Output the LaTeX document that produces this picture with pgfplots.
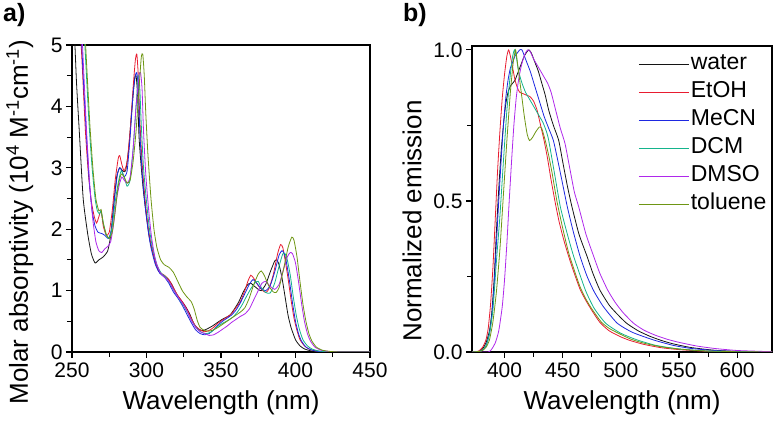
\documentclass[border=0pt]{standalone}
\usepackage{pgfplots}
\pgfplotsset{compat=1.18}
\usepackage{fontspec}
\setmainfont{Liberation Sans}
\definecolor{cwater}{RGB}{20,20,20}
\definecolor{cetoh}{RGB}{232,28,48}
\definecolor{cmecn}{RGB}{30,40,225}
\definecolor{cdcm}{RGB}{20,180,140}
\definecolor{cdmso}{RGB}{175,40,235}
\definecolor{ctol}{RGB}{110,150,20}
\pgfplotsset{
  common/.style={
    scale only axis,
    anchor=south west,
    axis line style={line width=1.4pt},
    tick align=outside,
    xtick pos=bottom, ytick pos=left,
    major tick length=6pt, minor tick length=5pt,
    every tick/.style={line width=1.1pt, black},
    tick label style={font=\fontsize{21}{21}\selectfont},
    label style={font=\fontsize{26}{26}\selectfont},
    /pgf/number format/assume math mode=true,
    every axis plot/.append style={line width=0.8pt},
    clip=true,
  },
  sm/.style={smooth, tension=0.35},
}
\begin{document}
\begin{tikzpicture}
\useasboundingbox (0,0) rectangle (777pt,423pt);
\node[anchor=north west, inner sep=0pt, font=\fontsize{25}{25}\selectfont\bfseries] at (3pt,420pt) {a)};
\node[anchor=north west, inner sep=0pt, font=\fontsize{25}{25}\selectfont\bfseries] at (403pt,420pt) {b)};
\begin{axis}[common,
  at={(72pt,71pt)}, width=298pt, height=307pt,
  xmin=250, xmax=450, ymin=0, ymax=5,
  xtick={250,300,...,450}, ytick={0,1,...,5},
  minor x tick num=1, minor y tick num=1,
  xticklabel style={yshift=-1pt},
  xlabel={Wavelength (nm)},
  ylabel={Molar absorptivity (10\textsuperscript{4} M\textsuperscript{-1}cm\textsuperscript{-1})},
  xlabel style={at={(axis description cs:0.5,-0.115)}, anchor=north},
  ylabel style={at={(axis description cs:-0.175,0.423)}, anchor=center},
]
% water
\addplot[cwater, sm] coordinates {(251.5,5.3)(253,4.4)(255,3.55)(257.5,2.5)(260.5,1.93)(263,1.6)(265.5,1.45)(268,1.5)(271,1.55)(274,1.65)(276,1.9)(278,2.4)(280,2.85)(282,3.0)(284,2.95)(286,2.95)(288,3.3)(290,3.9)(292,4.45)(293,4.5)(294,4.2)(295,3.5)(296.5,3.0)(298,2.6)(300,2.2)(302,1.85)(305,1.55)(308,1.32)(311,1.25)(314,1.2)(317,1.1)(320,0.95)(323,0.85)(326,0.75)(329,0.62)(332,0.45)(335,0.37)(338,0.35)(341,0.38)(344,0.42)(347,0.47)(350,0.52)(353,0.56)(356,0.6)(359,0.7)(362,0.82)(365,0.98)(368,1.1)(370,1.12)(372,1.08)(375,1.02)(377,1.0)(380,1.1)(383,1.3)(386,1.48)(387.5,1.5)(389,1.42)(391,1.2)(393,0.9)(395,0.6)(397,0.4)(400,0.2)(403,0.1)(406,0.05)(410,0.02)(415,0.005)(430,0)(450,0)};
% EtOH
\addplot[cetoh, sm] coordinates {(255.5,5.3)(257,4.6)(259,3.6)(261,2.9)(263,2.45)(265,2.2)(266.5,2.1)(268,2.2)(269.5,2.3)(271,2.05)(273,1.9)(275,1.95)(277,2.3)(279,2.8)(281,3.15)(282,3.2)(283.5,3.05)(285,2.95)(287,3.1)(289,3.6)(291,4.3)(292.5,4.75)(293.5,4.85)(294.5,4.5)(295.5,3.8)(297,3.1)(299,2.5)(301,2.05)(303,1.75)(306,1.45)(309,1.3)(312,1.25)(315,1.18)(318,1.05)(321,0.92)(324,0.82)(327,0.7)(330,0.55)(333,0.42)(336,0.36)(339,0.33)(342,0.35)(345,0.4)(348,0.47)(351,0.52)(354,0.57)(357,0.62)(360,0.72)(363,0.82)(366,1.0)(368,1.15)(370,1.25)(372,1.2)(375,1.08)(378,1.0)(380,0.97)(382,1.02)(385,1.25)(388,1.6)(390,1.75)(391.5,1.7)(393,1.5)(395,1.2)(397,0.85)(399,0.55)(401,0.35)(403,0.2)(406,0.1)(409,0.05)(413,0.02)(420,0.005)(430,0)(450,0)};
% MeCN
\addplot[cmecn, sm] coordinates {(256,5.3)(257.5,4.5)(259.5,3.6)(261.5,2.8)(263.5,2.3)(265.5,2.05)(267.5,1.95)(270,1.93)(272,1.9)(274.5,1.85)(276.5,2.0)(278.5,2.5)(280.5,2.9)(282,3.0)(283.5,2.95)(285,2.85)(287,2.95)(289,3.5)(291,4.2)(292.5,4.5)(293.5,4.55)(294.5,4.3)(295.5,3.6)(297,2.95)(299,2.4)(301,2.0)(303,1.7)(306,1.42)(309,1.28)(312,1.22)(315,1.12)(318,0.98)(321,0.88)(324,0.76)(327,0.62)(330,0.48)(333,0.36)(336,0.3)(339,0.28)(342,0.3)(345,0.36)(348,0.44)(351,0.5)(354,0.55)(357,0.6)(360,0.68)(363,0.8)(366,0.95)(369,1.1)(371.5,1.18)(374,1.12)(377,1.03)(380,1.0)(383,1.08)(386,1.3)(389,1.58)(391,1.65)(392.5,1.6)(394,1.45)(396,1.15)(398,0.8)(400,0.5)(402,0.3)(404,0.18)(407,0.08)(410,0.04)(415,0.01)(425,0)(450,0)};
% DCM
\addplot[cdcm, sm] coordinates {(258,5.3)(259.5,4.6)(261.5,3.7)(263.5,3.0)(265.5,2.5)(267,2.3)(268.5,2.25)(269.5,2.3)(271,2.1)(273,1.9)(275,1.85)(277,2.05)(279,2.45)(281,2.75)(283,2.95)(285,2.85)(287,2.7)(289,2.8)(291,3.3)(293,4.0)(294.5,4.5)(295.5,4.3)(296.5,3.7)(298,3.0)(300,2.45)(302,2.0)(304,1.7)(307,1.42)(310,1.28)(313,1.22)(316,1.1)(319,0.98)(322,0.86)(325,0.75)(328,0.62)(331,0.48)(334,0.38)(337,0.32)(340,0.3)(343,0.32)(346,0.38)(349,0.44)(352,0.48)(355,0.52)(358,0.57)(361,0.65)(364,0.76)(367,0.9)(370,1.03)(373,1.13)(375,1.15)(377,1.05)(380,0.97)(383,0.96)(386,1.12)(389,1.4)(391.5,1.6)(393,1.6)(394.5,1.5)(396.5,1.25)(398.5,0.9)(400.5,0.6)(402.5,0.38)(405,0.2)(408,0.1)(411,0.05)(416,0.015)(425,0)(450,0)};
% DMSO
\addplot[cdmso, sm] coordinates {(256.5,5.3)(258,4.5)(260,3.5)(262,2.7)(264,2.15)(266,1.8)(268,1.65)(270,1.62)(272,1.68)(274,1.72)(276,1.8)(278,2.1)(280,2.5)(282,2.75)(283.5,2.85)(285,2.8)(287,2.75)(289,2.85)(291,3.3)(293,4.0)(295,4.5)(296,4.55)(297,4.3)(298,3.6)(299.5,2.9)(301.5,2.3)(303.5,1.85)(306,1.5)(309,1.3)(312,1.22)(315,1.15)(318,1.02)(321,0.9)(324,0.8)(327,0.68)(330,0.52)(333,0.4)(336,0.33)(339,0.3)(342,0.27)(345,0.28)(348,0.32)(351,0.37)(354,0.42)(357,0.48)(360,0.53)(363,0.58)(366,0.62)(369,0.7)(372,0.85)(375,1.0)(377.5,1.12)(380,1.15)(383,1.07)(386,1.02)(389,1.1)(392,1.35)(394.5,1.55)(396.5,1.62)(398,1.6)(400,1.45)(402,1.15)(404,0.8)(406,0.5)(408,0.3)(410,0.18)(413,0.08)(417,0.03)(422,0.01)(430,0)(450,0)};
% toluene
\addplot[ctol, sm] coordinates {(258.5,5.3)(260,4.6)(262,3.7)(264,3.0)(266,2.5)(268,2.3)(269.5,2.32)(271,2.1)(273,1.92)(275,1.85)(277,1.95)(279,2.3)(281,2.7)(283,2.9)(285,2.85)(287,2.75)(289,2.8)(291,3.1)(293,3.6)(295,4.3)(296.5,4.8)(297.5,4.85)(298.5,4.5)(299.5,3.9)(301,3.2)(303,2.5)(305,2.0)(307,1.7)(309.5,1.5)(312,1.42)(315,1.38)(318,1.3)(321,1.15)(324,1.0)(327,0.9)(330,0.82)(332,0.7)(334,0.52)(336,0.4)(339,0.35)(342,0.34)(345,0.36)(348,0.4)(351,0.45)(354,0.5)(357,0.55)(360,0.6)(363,0.65)(366,0.72)(369,0.88)(372,1.1)(375,1.27)(377,1.32)(379,1.25)(382,1.08)(385,0.98)(387,0.97)(389,1.05)(392,1.35)(395,1.7)(397.5,1.87)(399,1.82)(401,1.55)(403,1.15)(405,0.78)(407,0.5)(409,0.3)(411,0.18)(414,0.08)(418,0.03)(423,0.01)(430,0)(450,0)};
\end{axis}
\begin{axis}[common,
  at={(472pt,71pt)}, width=300pt, height=306pt,
  xmin=372, xmax=630, ymin=0, ymax=1.013,
  xtick={400,450,...,600}, ytick={0,0.5,1},
  minor x tick num=1, minor y tick num=1,
  yticklabel style={/pgf/number format/fixed, /pgf/number format/fixed zerofill, /pgf/number format/precision=1},
  xticklabel style={yshift=-1pt},
  xlabel={Wavelength (nm)},
  ylabel={Normalized emission},
  xlabel style={at={(axis description cs:0.5,-0.115)}, anchor=north},
  ylabel style={at={(axis description cs:-0.2,0.428)}, anchor=center},
  legend style={draw=none, fill=none, at={(1,1)}, anchor=north east, xshift=-4pt, yshift=-4pt,
    font=\fontsize{23}{23}\selectfont, row sep=0pt, inner sep=0pt,
    nodes={inner sep=1.5pt, text height=18pt, text depth=7pt},
    /tikz/every even column/.append style={column sep=5pt}},
  legend cell align=left,
  legend image code/.code={\draw[#1] plot coordinates {(0pt,0pt) (25pt,0pt) (50pt,0pt)};},
]
\addplot[cwater, sm] coordinates {(372,0)(378,0)(381,0.01)(384,0.03)(387,0.07)(389,0.13)(391,0.24)(393,0.4)(395,0.54)(397,0.66)(399,0.75)(401,0.82)(403,0.86)(405,0.88)(407,0.89)(409,0.9)(411,0.92)(414,0.95)(417,0.98)(419.5,0.995)(421,1.0)(423,0.99)(426,0.96)(429,0.93)(432,0.89)(435,0.85)(438,0.80)(442,0.75)(446.6,0.70)(450,0.63)(454,0.55)(458,0.48)(464,0.39)(471,0.316)(476,0.26)(482,0.205)(490,0.155)(497,0.125)(505,0.095)(515,0.07)(525,0.052)(535,0.038)(545,0.027)(560,0.015)(580,0.006)(600,0.002)(630,0)};
\addlegendentry{water}
\addplot[cetoh, sm] coordinates {(372,0)(375,0)(378,0.004)(381,0.015)(384,0.04)(386,0.08)(388,0.16)(390,0.28)(392,0.44)(394,0.6)(396,0.73)(398,0.84)(400,0.92)(402,0.98)(403.5,1.0)(405,0.98)(407,0.94)(409,0.9)(411,0.875)(413,0.86)(416,0.855)(419,0.85)(422,0.845)(425,0.83)(428,0.8)(431,0.75)(434,0.70)(437,0.64)(440,0.57)(443.8,0.49)(447,0.43)(451,0.37)(455,0.318)(460,0.26)(465,0.207)(470,0.17)(475,0.138)(482,0.098)(490,0.07)(500,0.05)(508,0.038)(520,0.025)(535,0.014)(550,0.008)(570,0.003)(600,0.001)(630,0)};
\addlegendentry{EtOH}
\addplot[cmecn, sm] coordinates {(372,0)(377,0)(381,0.005)(384,0.02)(387,0.06)(389,0.12)(391,0.22)(393,0.36)(395,0.5)(397,0.63)(399,0.75)(401,0.84)(403,0.9)(405,0.94)(407,0.96)(409,0.98)(411,0.99)(413,1.0)(415,1.0)(418,0.97)(422,0.93)(426,0.88)(430,0.83)(434,0.78)(438,0.74)(442,0.70)(446,0.63)(450,0.555)(454,0.48)(459,0.40)(465,0.316)(471,0.25)(477,0.2)(485,0.15)(497,0.095)(510,0.065)(528,0.04)(545,0.022)(560,0.012)(580,0.005)(600,0.002)(630,0)};
\addlegendentry{MeCN}
\addplot[cdcm, sm] coordinates {(372,0)(380,0.004)(384,0.02)(387,0.06)(390,0.14)(393,0.3)(396,0.45)(399,0.63)(402,0.8)(405,0.92)(407,0.98)(408.5,1.0)(410,0.98)(412,0.93)(415,0.89)(418,0.86)(421,0.84)(424,0.82)(427,0.8)(430,0.78)(433,0.76)(436,0.73)(438,0.70)(443,0.59)(448,0.48)(454,0.39)(459.5,0.316)(469.5,0.205)(477,0.145)(487,0.095)(500,0.062)(514,0.04)(530,0.022)(550,0.01)(575,0.003)(600,0.001)(630,0)};
\addlegendentry{DCM}
\addplot[cdmso, sm] coordinates {(372,0)(386,0)(389,0.01)(392,0.03)(395,0.07)(398,0.15)(400,0.24)(402,0.36)(404,0.5)(406,0.63)(408,0.75)(410,0.84)(412,0.9)(414,0.94)(416,0.97)(418,0.99)(420,1.0)(422,0.995)(425,0.97)(428,0.95)(431,0.93)(434,0.91)(437,0.89)(440,0.86)(444,0.80)(448,0.74)(452,0.69)(456,0.61)(460,0.53)(463.8,0.48)(470,0.39)(476.7,0.316)(482,0.26)(488.7,0.205)(495,0.165)(502,0.13)(511,0.095)(520,0.072)(530,0.055)(540,0.042)(550,0.032)(565,0.02)(580,0.012)(600,0.005)(630,0.001)};
\addlegendentry{DMSO}
\addplot[ctol, sm] coordinates {(372,0)(380,0.003)(384,0.015)(387,0.04)(390,0.1)(393,0.2)(396,0.34)(399,0.52)(402,0.7)(405,0.86)(407.5,0.96)(409.5,1.0)(411,0.96)(413,0.9)(415,0.84)(417,0.78)(419.5,0.72)(421.5,0.70)(424,0.71)(427,0.73)(430,0.745)(432,0.74)(435,0.70)(438,0.65)(441,0.59)(445,0.5)(450,0.41)(455,0.33)(460,0.27)(465,0.215)(470,0.175)(475,0.143)(483,0.1)(490,0.078)(500,0.058)(509,0.042)(520,0.029)(535,0.017)(550,0.01)(570,0.004)(600,0.001)(630,0)};
\addlegendentry{toluene}
\end{axis}
\end{tikzpicture}
\end{document}
